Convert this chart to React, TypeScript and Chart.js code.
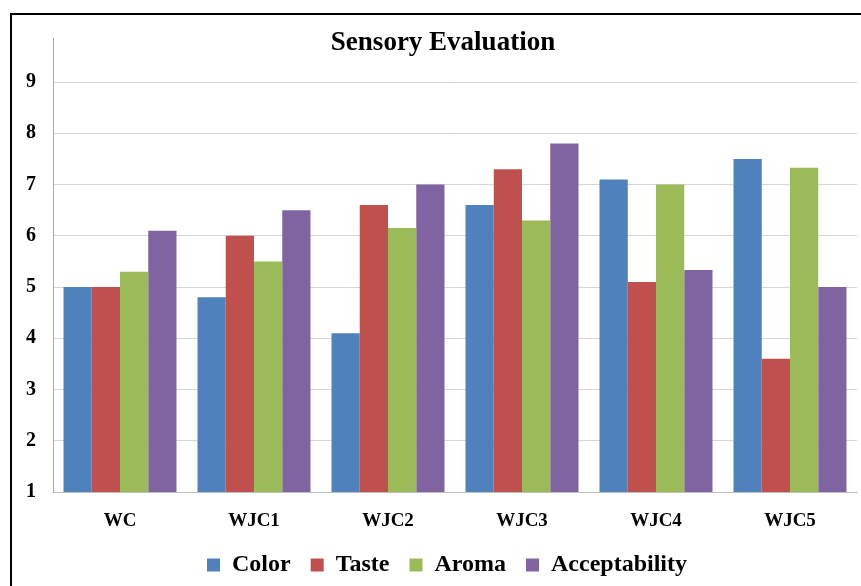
import { useEffect, useRef } from "react";
import { Chart, registerables } from "chart.js";

Chart.register(...registerables);

// Sensory panel scores per sample
const samples = ["WC", "WJC1", "WJC2", "WJC3", "WJC4", "WJC5"];
const colorScores = [5.0, 4.8, 4.1, 6.6, 7.1, 7.5];
const tasteScores = [5.0, 6.0, 6.6, 7.3, 5.1, 3.6];
const aromaScores = [5.3, 5.5, 6.15, 6.3, 7.0, 7.33];
const acceptabilityScores = [6.1, 6.5, 7.0, 7.8, 5.33, 5.0];
const scoreTicks = [1, 2, 3, 4, 5, 6, 7, 8, 9];
const chartTitle = "Sensory Evaluation";

const SERIF = '"Liberation Serif", "Times New Roman", serif';

// Draws the chart heading, which sits partly over the top of the plot area
const titlePlugin = {
  id: "sensoryTitle",
  afterLayout(chart: any) {
    // centre the legend row slightly left of the plot centre
    if (chart.legend) chart.legend.left -= 16;
  },
  afterDraw(chart: any) {
    const ctx = chart.ctx as CanvasRenderingContext2D;
    ctx.save();
    ctx.font = `bold 27px ${SERIF}`;
    ctx.fillStyle = "#000";
    ctx.textAlign = "center";
    ctx.textBaseline = "alphabetic";
    ctx.fillText(chartTitle, 443, 50);
    ctx.restore();
  },
};

export default function App() {
  const canvasRef = useRef<HTMLCanvasElement | null>(null);

  useEffect(() => {
    const canvas = canvasRef.current;
    if (!canvas) return;
    const chart = new Chart(canvas, {
      type: "bar",
      data: {
        labels: samples,
        datasets: [
          { label: "Color", data: colorScores, backgroundColor: "#4F81BD" },
          { label: "Taste", data: tasteScores, backgroundColor: "#C0504D" },
          { label: "Aroma", data: aromaScores, backgroundColor: "#9BBB59" },
          { label: "Acceptability", data: acceptabilityScores, backgroundColor: "#8064A2" },
        ],
      },
      options: {
        responsive: false,
        animation: false,
        devicePixelRatio: 1,
        layout: { padding: { left: 0, right: 4, top: 38, bottom: 0 } },
        datasets: {
          bar: { categoryPercentage: 0.843, barPercentage: 1, borderWidth: 0 },
        },
        plugins: {
          title: { display: false },
          tooltip: { enabled: false },
          legend: {
            display: true,
            position: "bottom",
            fullSize: false,
            labels: {
              boxWidth: 13,
              boxHeight: 13,
              padding: 20,
              color: "#000",
              font: { family: SERIF, size: 24, weight: "bold", lineHeight: 1 },
            },
          },
        },
        scales: {
          x: {
            grid: { display: false, drawTicks: false },
            border: { display: true, color: "#bfbfbf", width: 1 },
            ticks: {
              color: "#000",
              padding: 17.5,
              font: { family: SERIF, size: 19, weight: "bold" },
            },
            afterFit(scale: any) {
              scale.height = 41;
            },
          },
          y: {
            min: 1,
            max: 9.86,
            bounds: "data",
            grid: { color: "#d6d6d6", lineWidth: 1, drawTicks: false },
            border: { display: true, color: "#94adcb", width: 1 },
            ticks: {
              color: "#000",
              padding: 17,
              includeBounds: false,
              font: { family: SERIF, size: 20, weight: "bold" },
            },
            afterBuildTicks(scale: any) {
              scale.ticks = scoreTicks.map((v) => ({ value: v }));
            },
            afterFit(scale: any) {
              scale.width = 53;
            },
          },
        },
      },
      plugins: [titlePlugin],
    } as any);
    return () => chart.destroy();
  }, []);

  return (
    <div
      style={{
        position: "absolute",
        left: 0,
        top: 0,
        width: 861,
        height: 586,
        overflow: "hidden",
        background: "#fff",
      }}
    >
      <div
        style={{
          position: "absolute",
          left: 10,
          top: 13,
          width: 900,
          height: 700,
          borderTop: "2px solid #000",
          borderLeft: "2px solid #000",
        }}
      />
      <canvas
        ref={canvasRef}
        width={861}
        height={587}
        style={{ position: "absolute", left: 0, top: 0, width: 861, height: 587 }}
      />
    </div>
  );
}
